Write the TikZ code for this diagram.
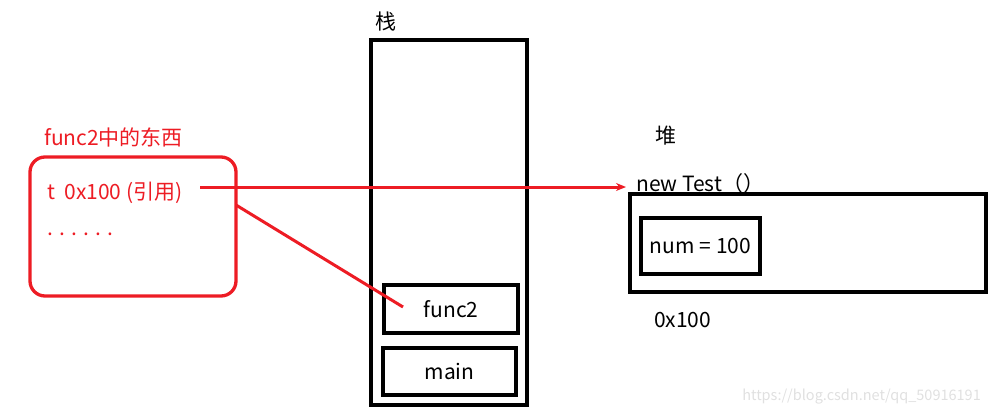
\documentclass[tikz,border=0pt]{standalone}
\usepackage{fontspec}
\setmainfont{Noto Sans CJK SC}
\usetikzlibrary{arrows.meta}
\definecolor{pred}{HTML}{ED1C24}
\tikzset{
  box/.style={draw=black, line width=3.3pt, inner sep=0pt},
  lbl/.style={font=\fontsize{21}{24}\selectfont, inner sep=0pt},
  rlbl/.style={lbl, text=pred},
}
\begin{document}
\begin{tikzpicture}[x=1pt,y=-1pt]
\useasboundingbox (0,0) rectangle (995,417);
% stack
\node[lbl] (stacklbl) at (386,22) {栈};
\draw[box] (371,40) rectangle (527,405);
\node[box, minimum width=134pt, minimum height=48pt] (func2) at (451,309) {};
\node[lbl] at (func2) {func2};
\node[box, minimum width=133pt, minimum height=47pt] (main) at (449.5,371.5) {};
\node[lbl] at (main) {main};
% red box
\node[rlbl, anchor=west] (redlbl) at (44,137) {func2中的东西};
\node[draw=pred, line width=3.3pt, rounded corners=15pt, minimum width=206pt, minimum height=139pt] (redbox) at (133,226.5) {};
\node[rlbl, anchor=west] (tref) at (47,193) {t\ \ 0x100 (引用)};
\node[rlbl, anchor=west] (dots) at (47,234) {. . . . . .};
% heap
\node[lbl] (heaplbl) at (666,136) {堆};
\node[lbl, anchor=west] (newtest) at (636,184) {new Test（）};
\node[box, minimum width=356pt, minimum height=98pt] (heap) at (808,243) {};
\node[box, minimum width=119pt, minimum height=56pt] (num) at (700.5,246) {};
\node[lbl] at (num) {num = 100};
\node[lbl, anchor=west] (addr) at (654,320) {0x100};
% connectors
\coordinate (arrstart) at (200,187);
\coordinate (arrend) at (626,187);
\draw[pred, line width=3pt, -{Stealth[length=10pt,width=8pt]}] (arrstart) -- (arrend);
\coordinate (d1) at (236,205);
\coordinate (d2) at (403,307);
\draw[pred, line width=3pt] (d1) -- (d2);
% watermark
\node[font=\fontsize{14.5}{17}\selectfont, text=black!12, anchor=east, inner sep=0pt] (wm) at (981,397) {https://blog.csdn.net/qq\_50916191};
\end{tikzpicture}
\end{document}
